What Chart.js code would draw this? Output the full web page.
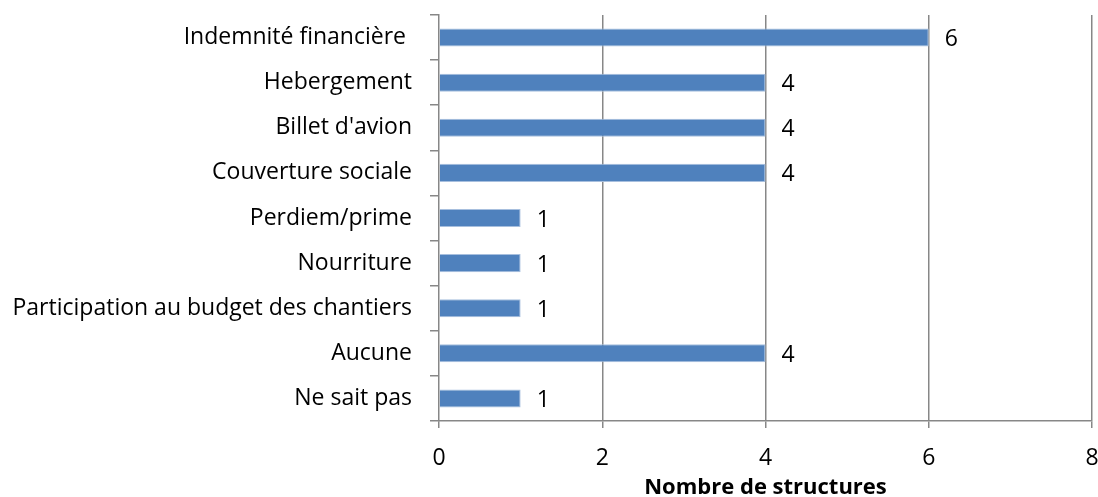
<!DOCTYPE html>
<html>
<head>
<meta charset="utf-8">
<script src="https://cdn.jsdelivr.net/npm/chart.js@4/dist/chart.umd.min.js"></script>
<style>
  html, body { margin: 0; padding: 0; background: #fff; }
  #wrap { width: 1098px; height: 497px; position: relative; }
</style>
</head>
<body>
<div id="wrap"><canvas id="c" width="1098" height="497"></canvas></div>
<script>
const categories = [
  "Indemnité financière ",
  "Hebergement",
  "Billet d'avion",
  "Couverture sociale",
  "Perdiem/prime",
  "Nourriture",
  "Participation au budget des chantiers",
  "Aucune",
  "Ne sait pas"
];
const values = [6, 4, 4, 4, 1, 1, 1, 4, 1];
const xTicks = [0, 2, 4, 6, 8];
const xTitle = "Nombre de structures";

const FONT = "'Open Sans'";
const FS = 23;
const GRID = "#878787";

const valueLabels = {
  id: 'valueLabels',
  afterDatasetsDraw(chart) {
    const ctx = chart.ctx;
    const meta = chart.getDatasetMeta(0);
    ctx.save();
    ctx.font = FS + "px " + FONT;
    ctx.fillStyle = "#000";
    ctx.textAlign = "left";
    ctx.textBaseline = "middle";
    meta.data.forEach((bar, i) => {
      ctx.fillText(String(values[i]), bar.x + 16, bar.y + 2);
    });
    ctx.restore();
  }
};

new Chart(document.getElementById('c'), {
  type: 'bar',
  data: {
    labels: categories,
    datasets: [{
      data: values,
      backgroundColor: '#4F81BD',
      borderColor: '#A7BFDE',
      borderWidth: 1,
      borderSkipped: 'left',
      barPercentage: 0.4,
      categoryPercentage: 1.0
    }]
  },
  options: {
    indexAxis: 'y',
    responsive: false,
    animation: false,
    layout: { padding: { top: 15, right: 6, left: 0, bottom: 0 } },
    plugins: { legend: { display: false }, tooltip: { enabled: false } },
    scales: {
      x: {
        min: 0, max: 8,
        afterBuildTicks(scale) { scale.ticks = xTicks.map(v => ({ value: v })); },
        grid: {
          color: (c) => c.tick && c.tick.value === 0 ? 'rgba(0,0,0,0)' : GRID,
          lineWidth: 1.5,
          tickLength: 7,
          tickColor: GRID,
          drawTicks: true
        },
        border: { display: true, color: GRID, width: 1.5 },
        ticks: { color: '#000', font: { family: FONT, size: FS }, padding: 17, maxRotation: 0 },
        title: { display: true, text: xTitle, color: '#000', font: { family: FONT, size: 22, weight: 'bold', lineHeight: 1 }, padding: { top: 0, bottom: -2 } },
        afterFit(scale) { scale.height = 76; scale.paddingLeft = 0; scale.paddingRight = 0; }
      },
      y: {
        offset: true,
        grid: {
          offset: true,
          drawOnChartArea: false,
          drawTicks: true,
          tickLength: 9,
          tickColor: GRID,
          lineWidth: 1.5
        },
        border: { display: true, color: GRID, width: 1.5 },
        ticks: { color: '#000', font: { family: FONT, size: FS }, padding: 18, autoSkip: false },
        afterFit(scale) { scale.width = 439; scale.paddingTop = 0; scale.paddingBottom = 0; }
      }
    }
  },
  plugins: [valueLabels]
});
</script>
</body>
</html>
